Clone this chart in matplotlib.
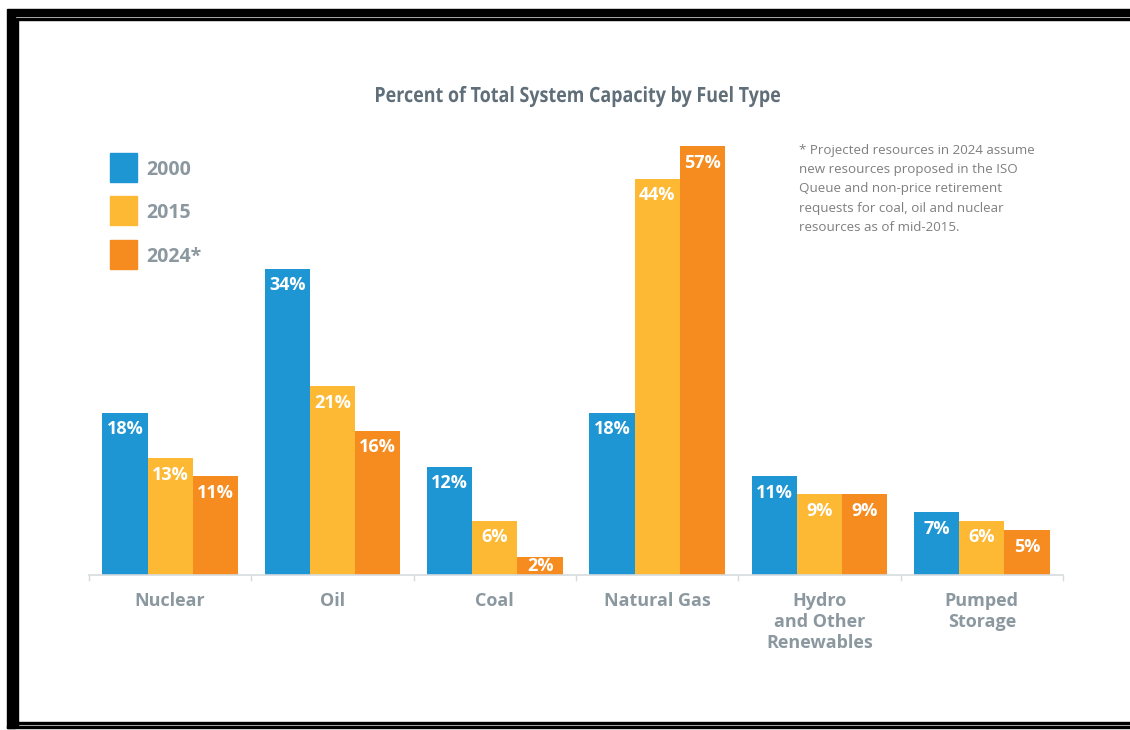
import numpy as np
import matplotlib
matplotlib.use("Agg")
import matplotlib.pyplot as plt
from matplotlib.patches import Rectangle, PathPatch
from matplotlib.textpath import TextPath
from matplotlib.font_manager import FontProperties
from matplotlib.transforms import Affine2D, IdentityTransform

# data
categories = ["Nuclear", "Oil", "Coal", "Natural Gas", "Hydro\nand Other\nRenewables", "Pumped\nStorage"]
series_names = ["2000", "2015", "2024*"]
values_2000 = [18, 34, 12, 18, 11, 7]
values_2015 = [13, 21, 6, 44, 9, 6]
values_2024 = [11, 16, 2, 57, 9, 5]
colors = ["#1e96d4", "#fdb933", "#f68b1f"]

title = "Percent of Total System Capacity by Fuel Type"
footnote = ("* Projected resources in 2024 assume\n"
            "new resources proposed in the ISO\n"
            "Queue and non-price retirement\n"
            "requests for coal, oil and nuclear\n"
            "resources as of mid-2015.")

plt.rcParams['font.family'] = ['Open Sans', 'DejaVu Sans']

W, H = 1130, 730
fig = plt.figure(figsize=(W / 100, H / 100), dpi=100)


def fx(px):
    return px / W


def fy(py):
    return 1 - py / H


# plot area: baseline at y=575, top at y=146
ax = fig.add_axes([fx(89), fy(575), fx(974), (575 - 146) / H])

all_values = [values_2000, values_2015, values_2024]
x = np.arange(len(categories))
width = 0.279
px_per_unit = 9.0
ymax = 429 / px_per_unit
for i, vals in enumerate(all_values):
    pos = x + (i - 1) * width
    ax.bar(pos, vals, width, color=colors[i], label=series_names[i])
    for p, v in zip(pos, vals):
        top = min(v, ymax)
        # label sits ~16px under the bar top, or in the middle of a short bar
        off = -min(16.5, top * px_per_unit / 2) * 0.72
        ax.annotate(f"{v}%", (p, top), xytext=(0, off), textcoords="offset points",
                    ha="center", va="center", color="white", fontsize=13, fontweight="bold")

ax.set_xlim(-0.5, len(categories) - 0.5)
ax.set_ylim(0, ymax)
ax.set_yticks([])
for s in ["top", "left", "right"]:
    ax.spines[s].set_visible(False)
ax.spines["bottom"].set_color("#d6dbde")
ax.spines["bottom"].set_linewidth(1.2)
ax.set_xticks(x)
ax.set_xticklabels(categories, fontsize=13, fontweight="bold", color="#8c989f", linespacing=1.2)
ax.tick_params(axis="x", which="major", length=0, pad=12.5)
ax.set_xticks(np.arange(-0.5, len(categories)), minor=True)
ax.tick_params(axis="x", which="minor", length=4, color="#d6dbde", width=1)

# title: condensed look by squeezing the glyph outlines horizontally
tp = TextPath((0, 0), title, size=21, prop=FontProperties(family="Open Sans", weight="bold"))
ext = tp.get_extents()
sx = 404 / ext.width
tr = Affine2D().translate(-ext.x0 - ext.width / 2, 0).scale(sx, 1).translate(578, H - 102)
fig.add_artist(PathPatch(tp, transform=tr + IdentityTransform(), color="#5f6e78", lw=0))

# legend drawn by hand
for i, name in enumerate(series_names):
    top = 153 + i * 43.5
    fig.add_artist(Rectangle((fx(110), fy(top + 29)), fx(27), 29 / H,
                             transform=fig.transFigure, color=colors[i]))
    fig.text(fx(146), fy(top + 22), name, ha="left", va="baseline", fontsize=14,
             fontweight="bold", color="#8c989f")

# footnote
fig.text(fx(799), fy(144), footnote, ha="left", va="top", fontsize=9.6, color="#7f7f7f",
         linespacing=1.62)

# black frame around the picture
k = "black"
fig.add_artist(Rectangle((fx(7), fy(16)), 1, 7 / H, transform=fig.transFigure, color=k))
fig.add_artist(Rectangle((fx(16), fy(20)), 1, 2 / H, transform=fig.transFigure, color=k))
fig.add_artist(Rectangle((fx(7), fy(728)), fx(8), 712 / H, transform=fig.transFigure, color=k))
fig.add_artist(Rectangle((fx(16), fy(727)), fx(2), 707 / H, transform=fig.transFigure, color=k))
fig.add_artist(Rectangle((fx(16), fy(724)), 1, 2 / H, transform=fig.transFigure, color=k))
fig.add_artist(Rectangle((fx(7), fy(728)), 1, 2 / H, transform=fig.transFigure, color=k))

fig.savefig("out.png", dpi=100)
